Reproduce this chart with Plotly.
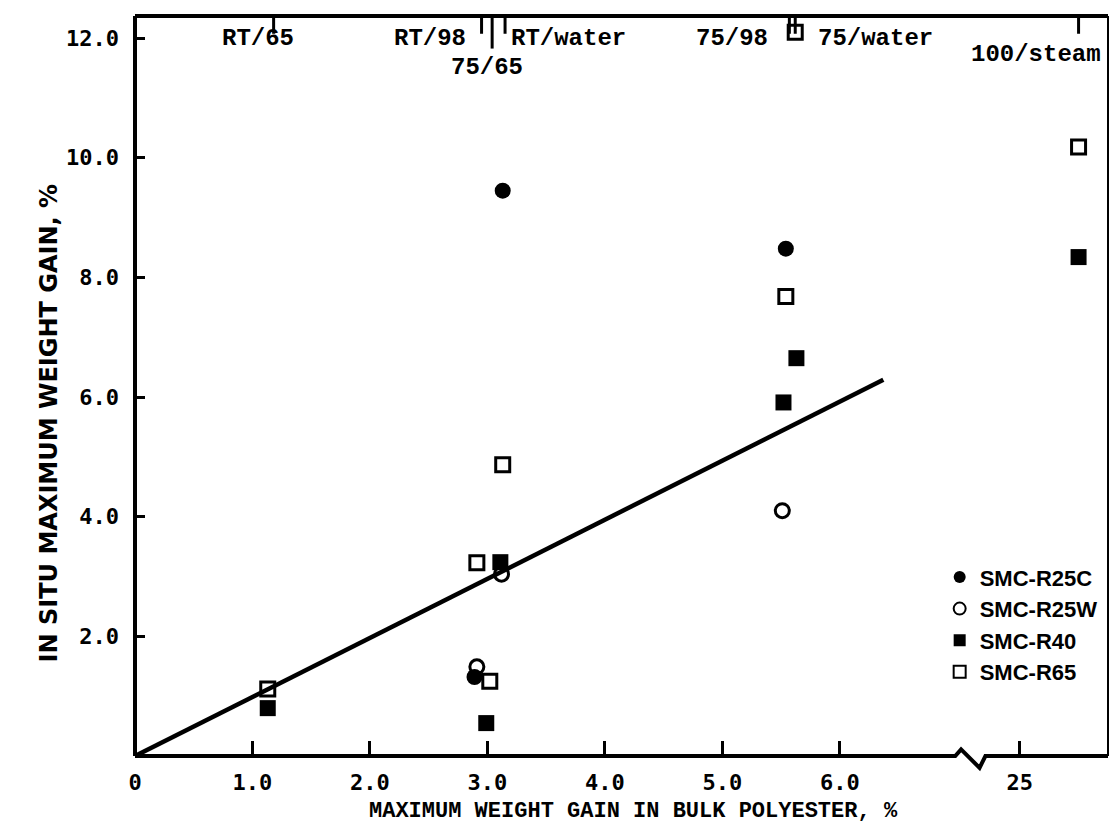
import plotly.graph_objects as go

# Bulk polyester weight gain (x) vs in-situ composite weight gain (y), %
r25c_x = [3.13, 5.54, 2.89]
r25c_y = [9.45, 8.48, 1.32]

r25w_x = [2.91, 3.12, 5.51]
r25w_y = [1.49, 3.04, 4.10]

r40_x = [1.13, 3.11, 2.99, 5.52, 5.63]
r40_y = [0.80, 3.24, 0.55, 5.91, 6.65]

r65_x = [1.13, 2.91, 3.02, 3.13, 5.54, 5.62]
r65_y = [1.12, 3.23, 1.25, 4.87, 7.68, 12.1]

# 100/steam condition, plotted beyond the axis break
steam_x = 25.5
steam_r40_y = 8.34
steam_r65_y = 10.18

# least-squares line through the origin
fit_x = [0.0, 6.37]
fit_y = [0.0, 6.29]

y_ticks = [2, 4, 6, 8, 10, 12]
y_tick_text = ["2.0", "4.0", "6.0", "8.0", "10.0", "12.0"]
x_ticks = [0, 1, 2, 3, 4, 5, 6]
x_tick_text = ["0", "1.0", "2.0", "3.0", "4.0", "5.0", "6.0"]

# exposure conditions marked along the top axis
cond_x = [1.18, 2.95, 3.04, 3.15, 5.57, 5.62]
cond_long = [False, False, True, False, False, False]
cond_labels = ["RT/65", "RT/98", "75/65", "RT/water", "75/98", "75/water"]
cond_label_x = [1.05, 2.51, 3.0, 3.69, 5.08, 6.3]
cond_label_row = [0, 0, 1, 0, 0, 0]
steam_cond_x = 25.5
steam_label_x = 25.14

MONO_HEAVY = "DejaVu Sans Mono, Liberation Mono, monospace"
MONO = "Liberation Mono, DejaVu Sans Mono, monospace"
SANS = "DejaVu Sans, Liberation Sans, sans-serif"
LEGEND_SANS = "Liberation Sans, Arial, sans-serif"

fig = go.Figure()

fig.add_trace(go.Scatter(
    x=fit_x, y=fit_y, mode="lines", line=dict(color="black", width=4.5),
    showlegend=False, hoverinfo="skip"))

fig.add_trace(go.Scatter(
    x=r25c_x, y=r25c_y, mode="markers", name="SMC-R25C",
    marker=dict(symbol="circle", size=16, color="black")))
fig.add_trace(go.Scatter(
    x=r25w_x, y=r25w_y, mode="markers", name="SMC-R25W",
    marker=dict(symbol="circle-open", size=14, color="black", line=dict(width=3))))
fig.add_trace(go.Scatter(
    x=r40_x, y=r40_y, mode="markers", name="SMC-R40",
    marker=dict(symbol="square", size=16, color="black")))
fig.add_trace(go.Scatter(
    x=r65_x, y=r65_y, mode="markers", name="SMC-R65",
    marker=dict(symbol="square-open", size=14, color="black", line=dict(width=3))))

fig.add_trace(go.Scatter(
    x=[steam_x], y=[steam_r40_y], xaxis="x2", mode="markers", showlegend=False,
    marker=dict(symbol="square", size=16, color="black")))
fig.add_trace(go.Scatter(
    x=[steam_x], y=[steam_r65_y], xaxis="x2", mode="markers", showlegend=False,
    marker=dict(symbol="square-open", size=14, color="black", line=dict(width=3))))

tick_font = dict(family=MONO_HEAVY, size=22, color="black", weight="bold")
SPLIT = 0.85
fig.update_layout(
    width=1111, height=832,
    margin=dict(l=135, r=3, t=16, b=76, autoexpand=False),
    paper_bgcolor="white", plot_bgcolor="white",
    xaxis=dict(domain=[0, SPLIT], range=[0, 7.04], showgrid=False, zeroline=False,
               showline=False, tickmode="array", tickvals=x_ticks, ticktext=x_tick_text,
               ticks="inside", ticklen=15, tickwidth=3, tickcolor="black",
               tickfont=tick_font, ticklabelstandoff=11),
    xaxis2=dict(domain=[SPLIT, 1], range=[24.51, 25.75], anchor="y", showgrid=False,
                zeroline=False, showline=False, tickmode="array", tickvals=[25],
                ticktext=["25"], ticks="inside", ticklen=15, tickwidth=3,
                tickcolor="black", tickfont=tick_font, ticklabelstandoff=11),
    yaxis=dict(range=[0, 12.37], showgrid=False, zeroline=False, showline=False,
               tickmode="array", tickvals=y_ticks, ticktext=y_tick_text,
               ticks="inside", ticklen=10, tickwidth=3, tickcolor="black",
               tickfont=tick_font, ticklabelstandoff=15),
    legend=dict(x=0.827, y=0.27, xanchor="left", yanchor="top",
                font=dict(family=LEGEND_SANS, size=22, color="black", weight="bold"),
                bgcolor="rgba(0,0,0,0)", itemsizing="constant", tracegroupgap=0),
    showlegend=True,
)

# frame with a break on the bottom axis
shapes = [
    dict(type="line", xref="paper", yref="paper", x0=0, y0=0, x1=0, y1=1,
         line=dict(color="black", width=4)),
    dict(type="line", xref="paper", yref="paper", x0=0, y0=1, x1=1, y1=1,
         line=dict(color="black", width=4)),
    dict(type="line", xref="paper", yref="paper", x0=1, y0=0, x1=1, y1=1,
         line=dict(color="black", width=2)),
    dict(type="path", xref="paper", yref="paper",
         path="M 0,0 L 0.843,0 L 0.849,0.009 L 0.868,-0.016 L 0.874,0 L 1,0",
         line=dict(color="black", width=4)),
]
# condition ticks hanging from the top axis
for cx, is_long in zip(cond_x, cond_long):
    shapes.append(dict(type="line", xref="x", yref="paper", x0=cx, x1=cx,
                       y0=1, y1=1 - (0.044 if is_long else 0.024),
                       line=dict(color="black", width=3)))
shapes.append(dict(type="line", xref="x2", yref="paper", x0=steam_cond_x, x1=steam_cond_x,
                   y0=1, y1=0.976, line=dict(color="black", width=3)))
fig.update_layout(shapes=shapes)

label_font = dict(family=MONO, size=24, color="black", weight="bold")
annotations = []
for lx, txt, row in zip(cond_label_x, cond_labels, cond_label_row):
    annotations.append(dict(x=lx, y=0.97 if row == 0 else 0.93, xref="x", yref="paper",
                            text=txt, showarrow=False, xanchor="center", yanchor="middle",
                            font=label_font))
annotations.append(dict(x=steam_label_x, y=0.948, xref="x2", yref="paper",
                        text="100/steam", showarrow=False, xanchor="center",
                        yanchor="middle", font=label_font))
annotations.append(dict(x=4.24, y=-0.075, xref="x", yref="paper",
                        text="MAXIMUM WEIGHT GAIN IN BULK POLYESTER, %", showarrow=False,
                        xanchor="center", yanchor="middle",
                        font=dict(family=MONO, size=22, color="black", weight="bold")))
annotations.append(dict(x=-0.088, y=0.45, xref="paper", yref="paper",
                        text="IN SITU MAXIMUM WEIGHT GAIN, %", textangle=-90,
                        showarrow=False, xanchor="center", yanchor="middle",
                        font=dict(family=SANS, size=24, color="black", weight="bold")))
fig.update_layout(annotations=annotations)

fig.write_html("out.html")
